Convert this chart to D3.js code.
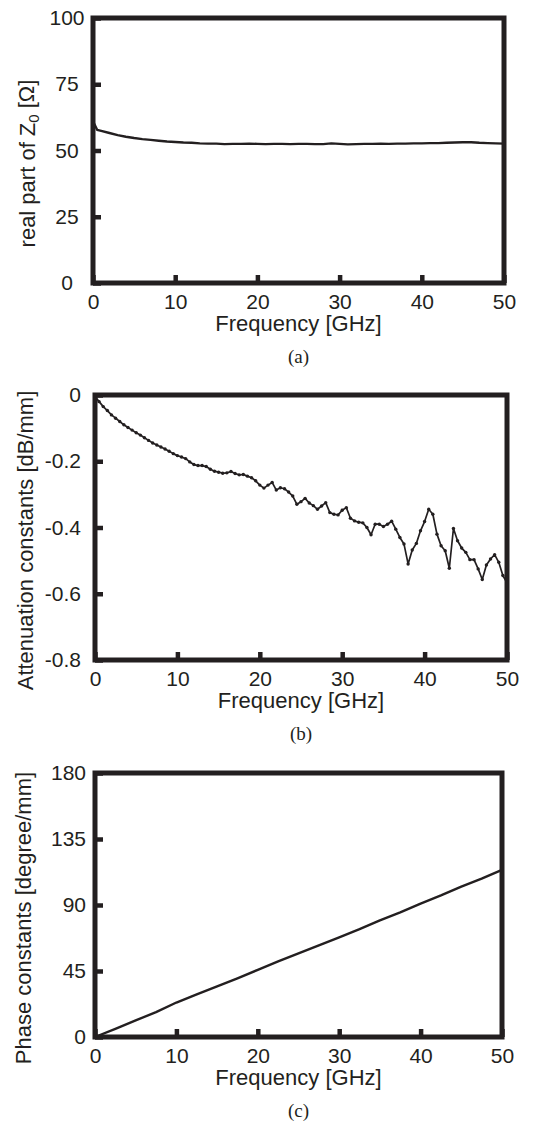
<html>
<head>
<script src="https://d3js.org/d3.v7.min.js"></script>
<style>
  body { margin: 0; background: #fff; }
  text { font-family: "Liberation Sans", Arial, sans-serif; fill: #231f20; }
  .caption { font-family: "Liberation Serif", "Times New Roman", serif; }
  .axis .domain { stroke: none; }
  .axis line { stroke: #231f20; stroke-width: 4.5; }
</style>
</head>
<body>
<svg id="chart" width="548" height="1123"></svg>
<script>
// tick labels
const freqTicks = [0, 10, 20, 30, 40, 50];
const zTicks = [0, 25, 50, 75, 100];
const attTicks = [0, -0.2, -0.4, -0.6, -0.8];
const phTicks = [0, 45, 90, 135, 180];

// (a) real part of Z0
const zFreq = [0, 0.5, 1, 2, 3, 4, 5, 6, 7, 8, 9, 10, 11, 12, 13, 14, 15, 16, 17, 18, 19, 20,
  21, 22, 23, 24, 25, 26, 27, 28, 29, 30, 31, 32, 33, 34, 35, 36, 37, 38, 39, 40,
  41, 42, 43, 44, 45, 46, 47, 48, 49, 50];
const zReal = [61.0, 57.8, 57.4, 56.6, 55.8, 55.2, 54.7, 54.3, 54.0, 53.7, 53.4, 53.2, 53.0, 52.9, 52.7, 52.6, 52.6, 52.4, 52.5, 52.5, 52.6, 52.5,
  52.4, 52.5, 52.5, 52.4, 52.5, 52.5, 52.4, 52.4, 52.7, 52.5, 52.3, 52.4, 52.5, 52.5, 52.6, 52.5, 52.6, 52.6, 52.7, 52.7,
  52.8, 52.8, 52.9, 53.0, 53.1, 53.1, 52.9, 52.8, 52.7, 52.6];

// (b) attenuation constants
const attFreq = [0, 0.5, 1, 1.5, 2, 2.5, 3, 3.5, 4, 4.5, 5, 5.5, 6, 6.5, 7, 7.5, 8, 8.5, 9, 9.5,
  10, 10.5, 11, 11.5, 12, 12.5, 13, 13.5, 14, 14.5, 15, 15.5, 16, 16.5, 17, 17.5, 18, 18.5, 19, 19.5,
  20, 20.5, 21, 21.5, 22, 22.5, 23, 23.5, 24, 24.5, 25, 25.5, 26, 26.5, 27, 27.5, 28, 28.5, 29, 29.5,
  30, 30.5, 31, 31.5, 32, 32.5, 33, 33.5, 34, 34.5, 35, 35.5, 36, 36.5, 37, 37.5, 38, 38.5, 39, 39.5,
  40, 40.5, 41, 41.5, 42, 42.5, 43, 43.5, 44, 44.5, 45, 45.5, 46, 46.5, 47, 47.5, 48, 48.5, 49, 49.5, 50];
const attVal = [-0.005, -0.02, -0.035, -0.047, -0.06, -0.07, -0.08, -0.09, -0.098, -0.106, -0.114, -0.121, -0.129, -0.137, -0.145, -0.151, -0.157, -0.163, -0.17, -0.177,
  -0.183, -0.187, -0.192, -0.202, -0.21, -0.213, -0.213, -0.216, -0.224, -0.23, -0.233, -0.236, -0.235, -0.231, -0.237, -0.241, -0.24, -0.245, -0.25, -0.259,
  -0.272, -0.281, -0.272, -0.264, -0.287, -0.28, -0.283, -0.293, -0.305, -0.33, -0.322, -0.312, -0.326, -0.334, -0.345, -0.335, -0.325, -0.355, -0.36, -0.362,
  -0.348, -0.34, -0.372, -0.38, -0.384, -0.386, -0.4, -0.422, -0.39, -0.39, -0.397, -0.39, -0.381, -0.405, -0.43, -0.45, -0.51, -0.468, -0.448, -0.41,
  -0.382, -0.345, -0.36, -0.42, -0.455, -0.47, -0.523, -0.403, -0.44, -0.462, -0.475, -0.497, -0.497, -0.525, -0.557, -0.513, -0.495, -0.482, -0.505, -0.545, -0.567];

// (c) phase constants
const phFreq = [0, 2.5, 5, 7.5, 10, 12.5, 15, 17.5, 20, 22.5, 25, 27.5, 30, 32.5, 35, 37.5, 40, 42.5, 45, 47.5, 50];
const phVal = [0, 5.5, 11.3, 17, 23.5, 29, 34.5, 40, 45.8, 51.5, 57, 62.5, 68, 73.5, 79.5, 85, 91, 96.5, 102.5, 108, 114];

const svg = d3.select('svg#chart');

function drawPanel(p) {
    const w = p.right - p.left;
    const h = p.bottom - p.top;
    const xScale = d3.scaleLinear().domain([0, 50]).range([0, w]);
    const yScale = d3.scaleLinear().domain(p.yDomain).range([h, 0]);

    const g = svg.append('g').attr('transform', `translate(${p.left},${p.top})`);

    // inward ticks
    const yAxis = d3.axisLeft(yScale).tickValues(p.yTicks).tickSize(-8).tickSizeOuter(0)
        .tickPadding(p.yPad).tickFormat(d => String(d));
    const ya = g.append('g').attr('class', 'axis').call(yAxis);
    ya.selectAll('text').style('font-size', '21px').attr('text-anchor', p.yAnchor);

    const xAxis = d3.axisBottom(xScale).tickValues(freqTicks).tickSize(-8).tickSizeOuter(0).tickPadding(11);
    const xa = g.append('g').attr('class', 'axis').attr('transform', `translate(0,${h})`).call(xAxis);
    xa.selectAll('text').style('font-size', '21px');

    // data line
    const line = d3.line().x(d => xScale(d[0])).y(d => yScale(d[1]));
    const pts = p.xs.map((x, i) => [x, p.ys[i]]);
    g.append('path').datum(pts)
        .attr('d', line)
        .attr('fill', 'none')
        .attr('stroke', '#231f20')
        .attr('stroke-width', p.lineWidth)
        .attr('stroke-linejoin', 'round');
    if (p.markers) {
        g.selectAll('circle.m').data(pts).enter().append('circle')
            .attr('class', 'm')
            .attr('cx', d => xScale(d[0]))
            .attr('cy', d => yScale(d[1]))
            .attr('r', 1.7)
            .attr('fill', '#231f20');
    }

    // frame
    g.append('rect').attr('x', 0).attr('y', 0).attr('width', w).attr('height', h)
        .attr('fill', 'none').attr('stroke', '#231f20').attr('stroke-width', 5);

    // axis titles
    g.append('text').attr('x', w / 2).attr('y', h + 48)
        .attr('text-anchor', 'middle').style('font-size', '22px').text('Frequency [GHz]');

    const yl = svg.append('text')
        .attr('transform', `translate(${p.yLabelX},${p.top + h / 2 + 13}) rotate(-90)`)
        .attr('text-anchor', 'middle').attr('dy', '0.35em').style('font-size', '22px');
    p.yLabel(yl);

    svg.append('text').attr('class', 'caption')
        .attr('x', p.left + w / 2).attr('y', p.bottom + 80)
        .attr('text-anchor', 'middle').style('font-size', '19px').text(p.caption);
}

drawPanel({
    left: 93, right: 504, top: 18, bottom: 283,
    yDomain: [0, 100], yTicks: zTicks, yPad: 26, yAnchor: 'middle',
    xs: zFreq, ys: zReal, lineWidth: 2.4, markers: false,
    yLabelX: 27, caption: '(a)',
    yLabel: t => {
        t.append('tspan').text('real part of Z');
        t.append('tspan').attr('dy', '0.3em').style('font-size', '15px').text('0');
        t.append('tspan').attr('dy', '-0.25em').text(' [\u03A9]');
    }
});

drawPanel({
    left: 95, right: 507, top: 395, bottom: 660,
    yDomain: [-0.8, 0], yTicks: attTicks, yPad: 14, yAnchor: 'end',
    xs: attFreq, ys: attVal, lineWidth: 1.7, markers: true,
    yLabelX: 25, caption: '(b)',
    yLabel: t => t.text('Attenuation constants [dB/mm]')
});

drawPanel({
    left: 95, right: 502, top: 773, bottom: 1037,
    yDomain: [0, 180], yTicks: phTicks, yPad: 9, yAnchor: 'end',
    xs: phFreq, ys: phVal, lineWidth: 2.4, markers: false,
    yLabelX: 23, caption: '(c)',
    yLabel: t => t.text('Phase constants [degree/mm]')
});
</script>
</body>
</html>
